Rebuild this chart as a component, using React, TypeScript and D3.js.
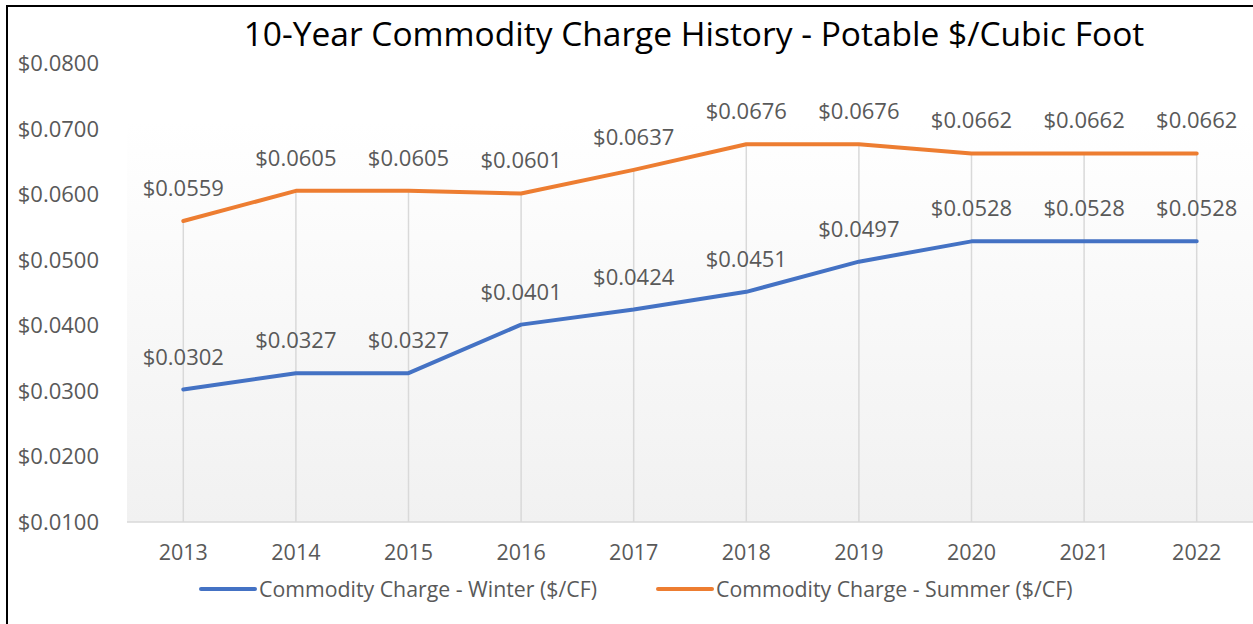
import React from "react";
import * as d3 from "d3";

const years = ["2013", "2014", "2015", "2016", "2017", "2018", "2019", "2020", "2021", "2022"];
const winter = [0.0302, 0.0327, 0.0327, 0.0401, 0.0424, 0.0451, 0.0497, 0.0528, 0.0528, 0.0528];
const summer = [0.0559, 0.0605, 0.0605, 0.0601, 0.0637, 0.0676, 0.0676, 0.0662, 0.0662, 0.0662];
const yTicks = [0.01, 0.02, 0.03, 0.04, 0.05, 0.06, 0.07, 0.08];

const seriesList = [
  { name: "Commodity Charge - Winter ($/CF)", values: winter, color: "#4472C4" },
  { name: "Commodity Charge - Summer ($/CF)", values: summer, color: "#ED7D31" },
];

const W = 1253;
const H = 624;
const font = "'Open Sans', sans-serif";
const grey = "#595959";

export default function App() {
  const x = d3.scaleBand<string>().domain(years).range([127, 1253]);
  const cx = (yr: string) => (x(yr) ?? 0) + x.bandwidth() / 2;
  const y = d3.scaleLinear().domain([0.01, 0.08]).range([522, 63]);
  const fmt = (v: number) => "$" + d3.format(".4f")(v);

  const line = d3
    .line<number>()
    .x((_, i) => cx(years[i]))
    .y((v) => y(v));

  return (
    <div style={{ position: "absolute", left: 0, top: 0 }}>
      <svg width={W} height={H} style={{ display: "block", background: "#fff" }}>
        <defs>
          <linearGradient id="plotBg" x1="0" y1="0" x2="0" y2="1">
            <stop offset="0" stopColor="#ffffff" />
            <stop offset="1" stopColor="#f1f1f1" />
          </linearGradient>
        </defs>
        <rect x={7} y={6} width={W + 20} height={H + 20} fill="none" stroke="#000" strokeWidth={2} />

        <rect x={127} y={122} width={1253 - 127} height={522 - 122} fill="url(#plotBg)" />

        <text x={694} y={46} textAnchor="middle" fontFamily={font} fontSize={33.5} fill="#000">
          10-Year Commodity Charge History - Potable $/Cubic Foot
        </text>

        {/* drop lines */}
        {years.map((yr, i) => (
          <line
            key={yr}
            x1={cx(yr)}
            x2={cx(yr)}
            y1={y(Math.max(winter[i], summer[i]))}
            y2={y(0.01)}
            stroke="#d9d9d9"
            strokeWidth={1.5}
          />
        ))}

        <line x1={127} x2={1253} y1={y(0.01)} y2={y(0.01)} stroke="#d9d9d9" strokeWidth={1.5} />

        {yTicks.map((t) => (
          <text key={t} x={99} y={y(t) + 8} textAnchor="end" fontFamily={font} fontSize={22} fill={grey}>
            {fmt(t)}
          </text>
        ))}

        {years.map((yr) => (
          <text key={yr} x={cx(yr)} y={560} textAnchor="middle" fontFamily={font} fontSize={21.5} fill={grey}>
            {yr}
          </text>
        ))}

        {seriesList.map((s) => (
          <g key={s.name}>
            <path d={line(s.values) ?? ""} fill="none" stroke={s.color} strokeWidth={4} strokeLinejoin="round" strokeLinecap="round" />
            {s.values.map((v, i) => (
              <text key={i} x={cx(years[i])} y={y(v) - 25} textAnchor="middle" fontFamily={font} fontSize={22} fill={grey}>
                {fmt(v)}
              </text>
            ))}
          </g>
        ))}

        {/* legend */}
        {seriesList.map((s, i) => {
          const lx = i === 0 ? 201 : 658;
          return (
            <g key={s.name} transform={`translate(${lx},589)`}>
              <line x1={0} x2={54} y1={0} y2={0} stroke={s.color} strokeWidth={4} strokeLinecap="round" />
              <text x={58} y={8} fontFamily={font} fontSize={21.3} fill={grey}>
                {s.name}
              </text>
            </g>
          );
        })}
      </svg>
    </div>
  );
}
